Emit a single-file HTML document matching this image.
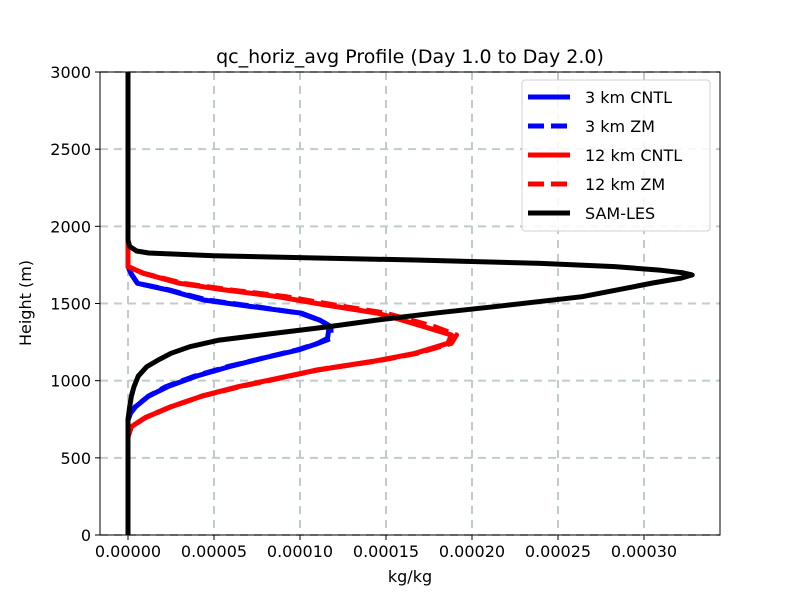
<!DOCTYPE html>
<html><head><meta charset="utf-8"><style>
body{margin:0;background:#fff}
svg{font-family:"DejaVu Sans","Liberation Sans",sans-serif}
</style></head><body>
<svg id="chart" width="800" height="600" xmlns="http://www.w3.org/2000/svg">
<g id="grid"></g><g id="series"></g><g id="axes"></g><g id="legend"></g>
</svg>
<script>
const xTicks=[0,0.00005,0.0001,0.00015,0.0002,0.00025,0.0003];
const xTickLabels=["0.00000","0.00005","0.00010","0.00015","0.00020","0.00025","0.00030"];
const yTicks=[0,500,1000,1500,2000,2500,3000];
const seriesNames=["3 km CNTL","3 km ZM","12 km CNTL","12 km ZM","SAM-LES"];
const samH=[0,750,831,900,961,1030,1091,1130,1177,1220,1263,1300,1350,1393,1440,1479,1544,1600,1633,1665,1685,1700,1715,1739,1760,1782,1795,1810,1827,1840,1870,1911,3000];
const samV=[0,0,1e-6,2e-6,3.5e-6,6e-6,1.1e-5,1.7e-5,2.5e-5,3.6e-5,5.3e-5,8e-5,1.17e-4,1.45e-4,1.8e-4,2.13e-4,2.64e-4,2.9e-4,3.05e-4,3.22e-4,3.28e-4,3.22e-4,3.1e-4,2.83e-4,2.4e-4,1.67e-4,1.1e-4,5e-5,1.2e-5,5e-6,1e-6,0,0];
const b3H=[0,745,790,831,900,961,1030,1091,1150,1199,1240,1274,1350,1390,1437,1480,1523,1560,1588,1631,1690,1739,3000];
const b3V=[0,0,1.5e-6,4.4e-6,1.2e-5,2.3e-5,4e-5,5.9e-5,8e-5,9.9e-5,1.1e-4,1.16e-4,1.17e-4,1.12e-4,1.01e-4,7.2e-5,4.4e-5,3.2e-5,2.3e-5,5.5e-6,2e-6,0,0];
const b3zV=[0,0,1.4e-6,4.2e-6,1.2e-5,2.2e-5,3.9e-5,5.8e-5,8e-5,9.8e-5,1.1e-4,1.18e-4,1.18e-4,1.12e-4,1.0e-4,7.4e-5,4.6e-5,3.3e-5,2.4e-5,5.5e-6,2e-6,0,0];
const r12H=[0,637,702,760,831,900,961,1010,1069,1130,1177,1242,1296,1350,1400,1437,1490,1544,1590,1631,1696,1739,1950,3000];
const r12V=[0,0,2e-6,1e-5,2.5e-5,4.3e-5,6.4e-5,8.5e-5,1.1e-4,1.45e-4,1.67e-4,1.86e-4,1.88e-4,1.72e-4,1.57e-4,1.45e-4,1.15e-4,8.7e-5,5.5e-5,3e-5,9e-6,0,0,0];
const r12zV=[0,0,2e-6,1e-5,2.5e-5,4.3e-5,6.5e-5,8.6e-5,1.1e-4,1.46e-4,1.68e-4,1.88e-4,1.91e-4,1.78e-4,1.62e-4,1.5e-4,1.2e-4,9.2e-5,5.8e-5,3.2e-5,9e-6,0,0,0];
const NS="http://www.w3.org/2000/svg";
const L=100,R=720,T=72,B=535;
const xs=v=>128+v/0.00005*86;
const ys=h=>B-(h/3000)*(B-T);
function mk(p,t,a){const e=document.createElementNS(NS,t);for(const k in a)e.setAttribute(k,a[k]);p.appendChild(e);return e;}
const grid=document.getElementById('grid'),ser=document.getElementById('series'),ax=document.getElementById('axes'),lg=document.getElementById('legend');
xTicks.forEach((v,i)=>{
 const g=mk(grid,'line',{x1:xs(v),x2:xs(v),y1:T,y2:B,stroke:'#c0cccc','stroke-width':2,'stroke-dasharray':'8,6'});
 
 
 mk(ax,'line',{x1:xs(v),x2:xs(v),y1:B,y2:B+5,stroke:'#000'});
 const t=mk(ax,'text',{x:xs(v),y:B+22,'text-anchor':'middle','font-size':16});
 t.textContent=xTickLabels[i];
 
 
});
yTicks.forEach(v=>{
 const g=mk(grid,'line',{x1:L,x2:R,y1:ys(v),y2:ys(v),stroke:'#c0cccc','stroke-width':2,'stroke-dasharray':'8,6'});
 
 
 mk(ax,'line',{x1:L-5,x2:L,y1:ys(v),y2:ys(v),stroke:'#000'});
 const t=mk(ax,'text',{x:L-9,y:ys(v)+6,'text-anchor':'end','font-size':16});
 t.textContent=v;
 
 
});
function line(H,V,col,dash,name){
 const d=H.map((h,i)=>(i?'L':'M')+xs(V[i]).toFixed(1)+','+ys(h).toFixed(1)).join('');
 const p=mk(ser,'path',{d:d,fill:'none',stroke:col,'stroke-width':5,'stroke-linejoin':'round'});
 if(dash)p.setAttribute('stroke-dasharray','16,7');
 
 
}
line(b3H,b3V,'#0000ff',false,'line-3km-cntl');
line(b3H,b3zV,'#0000ff',true,'line-3km-zm');
line(r12H,r12V,'#ff0000',false,'line-12km-cntl');
line(r12H,r12zV,'#ff0000',true,'line-12km-zm');
line(samH,samV,'#000000',false,'line-sam-les');
const fr=mk(ax,'rect',{x:L,y:T,width:R-L,height:B-T,fill:'none',stroke:'#000','stroke-width':1});


const ti=mk(ax,'text',{x:410,y:63,'text-anchor':'middle','font-size':19});
ti.textContent='qc_horiz_avg Profile (Day 1.0 to Day 2.0)';


const xl=mk(ax,'text',{x:410,y:582,'text-anchor':'middle','font-size':16});
xl.textContent='kg/kg';


const yl=mk(ax,'text',{x:31,y:303,'text-anchor':'middle','font-size':16,transform:'rotate(-90 31 303)'});
yl.textContent='Height (m)';


const lb=mk(lg,'rect',{x:522,y:80,width:188,height:151,rx:3,fill:'#fff','fill-opacity':0.85,stroke:'#d0d0d0'});


const cols=['#0000ff','#0000ff','#ff0000','#ff0000','#000'],dashes=[0,1,0,1,0];
seriesNames.forEach((n,i)=>{
 const y=97+i*29;
 const g=mk(lg,'g',{});
 
 
 const l=mk(g,'line',{x1:528,x2:570,y1:y,y2:y,stroke:cols[i],'stroke-width':5});
 if(dashes[i])l.setAttribute('stroke-dasharray','16,7');
 const t=mk(g,'text',{x:585,y:y+6,'font-size':16});
 t.textContent=n;
});
</script>
</body></html>
